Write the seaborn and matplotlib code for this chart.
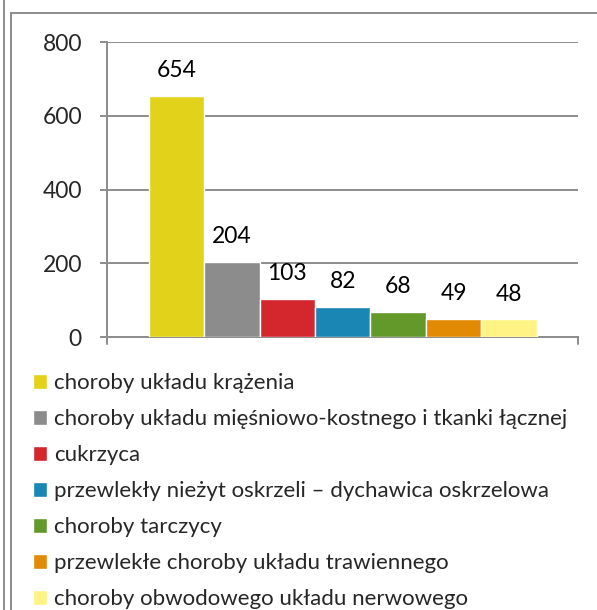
import matplotlib
matplotlib.use('Agg')
import matplotlib.pyplot as plt
import seaborn as sns
import pandas as pd
from matplotlib.patches import Patch
from matplotlib.lines import Line2D

# Data
categories = [
    'choroby układu krążenia',
    'choroby układu mięśniowo-kostnego i tkanki łącznej',
    'cukrzyca',
    'przewlekły nieżyt oskrzeli – dychawica oskrzelowa',
    'choroby tarczycy',
    'przewlekłe choroby układu trawiennego',
    'choroby obwodowego układu nerwowego',
]
values = [654, 204, 103, 82, 68, 49, 48]
colors = ['#E2D31A', '#8C8C8C', '#D3262D', '#1A86B3', '#63992B', '#E38A05', '#FFF386']
y_ticks = [0, 200, 400, 600, 800]

sns.set_style('white')
plt.rcParams['font.family'] = ['Lato', 'DejaVu Sans']

df = pd.DataFrame({'kategoria': categories, 'liczba': values})

fig = plt.figure(figsize=(5.97, 6.10), dpi=100)
ax = fig.add_axes([0.1792, 0.4475, 0.968 - 0.1792, 0.4836])

sns.barplot(data=df, x='kategoria', y='liczba', hue='kategoria',
            palette=colors, saturation=1, width=1.0, legend=False, ax=ax,
            edgecolor='white', linewidth=1.0, zorder=3)

# value labels above bars
for i, v in enumerate(values):
    ax.text(i, v + 68, str(v), ha='center', va='center', fontsize=16.5, color='black')

ax.set_xlim(-1.25, 7.24)
ax.set_ylim(0, 800)
ax.set_yticks(y_ticks)
ax.set_xticks([])
ax.set_xlabel('')
ax.set_ylabel('')
ax.grid(axis='y', color='#8C8C8C', linewidth=1.4, zorder=0)
for s in ['top', 'right']:
    ax.spines[s].set_visible(False)
for s in ['left', 'bottom']:
    ax.spines[s].set_color('#8C8C8C')
    ax.spines[s].set_linewidth(1.4)
ax.tick_params(axis='y', length=5, width=1.4, color='#8C8C8C', pad=13, labelsize=16.5, left=True)

# small ticks at both ends of x axis
ax.plot([7.24, 7.24], [0, -20], color='#8C8C8C', lw=1.4, clip_on=False)
ax.plot([-1.25, -1.25], [0, -20], color='#8C8C8C', lw=1.4, clip_on=False)

# legend
handles = [Patch(facecolor=c, edgecolor='white') for c in colors]
fig.legend(handles, categories, loc='upper left', bbox_to_anchor=(0.055, 0.388),
           frameon=False, fontsize=16, handlelength=0.62, handleheight=0.62,
           handletextpad=0.35, labelspacing=0.72, borderaxespad=0, borderpad=0)

# frame lines
fig.add_artist(Line2D([3.5 / 597, 3.5 / 597], [0, 1], color='#8C8C8C', lw=1.4))
fig.add_artist(Line2D([10.5 / 597, 10.5 / 597], [0, 1 - 12.5 / 610], color='#8C8C8C', lw=1.4))
fig.add_artist(Line2D([10.5 / 597, 1], [1 - 12.5 / 610, 1 - 12.5 / 610], color='#8C8C8C', lw=1.4))

fig.savefig('out.png', dpi=100)
